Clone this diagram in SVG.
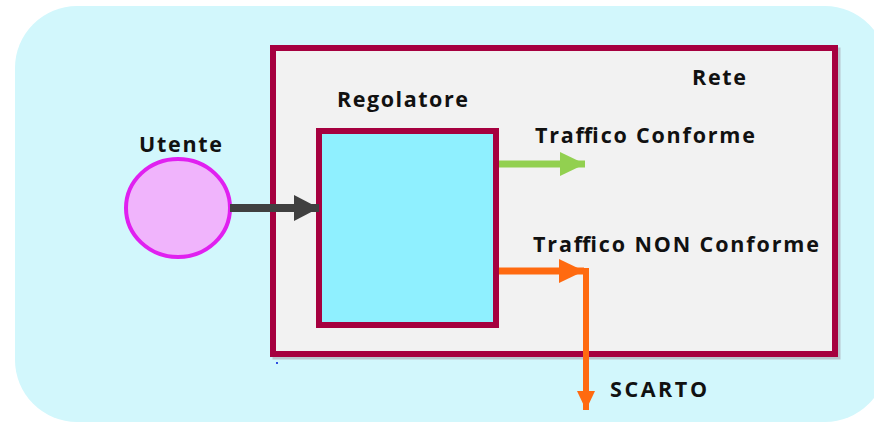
<svg xmlns="http://www.w3.org/2000/svg" width="874" height="423" viewBox="0 0 874 423">
  <style>
    .lbl { font-family: "Open Sans", "Liberation Sans", sans-serif; font-weight: bold; font-size: 21.5px; fill: #111111; }
    .box { stroke: #a6003f; stroke-width: 6; }
  </style>
  <defs>
    <marker id="headGray" markerUnits="userSpaceOnUse" markerWidth="26" markerHeight="26" refX="25" refY="13" orient="auto">
      <path d="M0,0 L25,13 L0,26 Z" fill="#404040"/>
    </marker>
    <marker id="headGreen" markerUnits="userSpaceOnUse" markerWidth="26" markerHeight="26" refX="25" refY="12" orient="auto">
      <path d="M0,0 L25,12 L0,24 Z" fill="#92d050"/>
    </marker>
    <marker id="headOrange" markerUnits="userSpaceOnUse" markerWidth="26" markerHeight="26" refX="25" refY="12" orient="auto">
      <path d="M0,0 L25,12 L0,24 Z" fill="#ff6a10"/>
    </marker>
    <marker id="headOrangeDown" markerUnits="userSpaceOnUse" markerWidth="20" markerHeight="20" refX="19" refY="9" orient="auto">
      <path d="M0,0 L19,9 L0,18 Z" fill="#ff6a10"/>
    </marker>
  </defs>

  <!-- background panel -->
  <rect x="15" y="6" width="872" height="416" rx="62" fill="#d2f7fc"/>

  <!-- network container -->
  <g id="rete">
    <rect x="275.5" y="50.5" width="562" height="306" fill="none" stroke="#8a6a78" stroke-opacity="0.35" stroke-width="6"/>
    <rect class="box" x="273" y="48" width="562" height="306" fill="#f2f2f2"/>
    <text class="lbl" x="692" y="85" textLength="54">Rete</text>
  </g>

  <!-- user -->
  <g id="utente">
    <ellipse cx="178" cy="208" rx="52" ry="49" fill="#f0b4fc" stroke="#e020f0" stroke-width="4"/>
    <text class="lbl" x="139" y="152" textLength="83">Utente</text>
  </g>

  <!-- regulator -->
  <g id="regolatore">
    <rect class="box" x="319" y="131" width="177" height="194" fill="#8ff0ff"/>
    <text class="lbl" x="337" y="107" textLength="131">Regolatore</text>
  </g>

  <!-- flows -->
  <g id="connectors">
    <line x1="230" y1="208" x2="319" y2="208" stroke="#404040" stroke-width="8" marker-end="url(#headGray)"/>
    <line x1="499" y1="164" x2="585" y2="164" stroke="#92d050" stroke-width="7" marker-end="url(#headGreen)"/>
    <line x1="499" y1="271" x2="584" y2="271" stroke="#ff6a10" stroke-width="7" marker-end="url(#headOrange)"/>
    <line x1="586" y1="268" x2="586" y2="410" stroke="#ff6a10" stroke-width="6" marker-end="url(#headOrangeDown)"/>
  </g>

  <g id="labels">
    <text class="lbl" x="535" y="143" textLength="220">Traffico Conforme</text>
    <text class="lbl" x="533" y="252" textLength="286">Traffico NON Conforme</text>
    <text class="lbl" x="610" y="397" textLength="97">SCARTO</text>
  </g>

  <!-- stray point -->
  <rect x="276" y="362" width="2" height="2" fill="#3050e0"/>
</svg>
